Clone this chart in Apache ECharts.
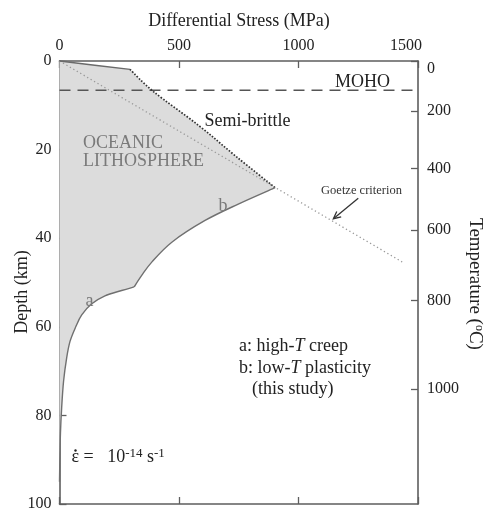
<!DOCTYPE html>
<html>
<head>
<meta charset="utf-8">
<script src="https://cdn.jsdelivr.net/npm/echarts@6/dist/echarts.min.js"></script>
<style>
  html, body { margin: 0; padding: 0; background: #fff; }
  #chart { width: 485px; height: 512px; }
</style>
</head>
<body>
<div id="chart"></div>
<script>
// Strength envelope of oceanic lithosphere: stress (MPa) vs depth (km)
const stressRange = [0, 1500];
const depthRange = [0, 100];

// Frictional segment near the surface (solid)
const upperSolid = [[0, 0], [295, 1.9]];
// Semi-brittle segment (dotted)
const semiBrittle = [[295, 1.9], [393, 6.9], [581, 14.5], [740, 21.6], [902, 28.6]];
// b: low-T plasticity
const curveB = [[902, 28.6], [748, 32.3], [609, 36.0], [470, 40.9], [386, 45.4], [344, 48.4], [312, 51.0]];
// a: high-T creep
const curveA = [[312, 51.0], [260, 51.8], [190, 53.0], [135, 54.8], [93, 57.3], [68, 60.0],
                [44, 63.3], [30, 67.0], [17, 72.3], [9, 78.3], [4, 84.0], [1.5, 90.0], [0, 95.0]];
// Goetze criterion line
const goetzeLine = [[0, 0], [1435, 45.4]];
// Arrow pointing to the Goetze line
const goetzeArrow = [[1250, 31.0], [1146, 35.6]];
// Moho depth (km)
const mohoDepth = 6.6;

// Temperature scale on the right: labels and the depths they sit at
const tempLabels = [0, 200, 400, 600, 800, 1000];
const tempDepths = [0, 11.3, 24.3, 38.2, 54.1, 74.0];

const FONT = "'Liberation Serif', 'Times New Roman', serif";
const AXIS_COLOR = '#5e5e5e';
const TEXT_COLOR = '#222';

const chart = echarts.init(document.getElementById('chart'), null, { renderer: 'canvas' });

// Catmull-Rom spline through pixel points, as cubic bezier path commands
function splineSegments(px) {
  let d = '';
  for (let i = 0; i < px.length - 1; i++) {
    const p0 = px[i - 1] || px[i], p1 = px[i], p2 = px[i + 1], p3 = px[i + 2] || px[i + 1];
    const c1 = [p1[0] + (p2[0] - p0[0]) / 6, p1[1] + (p2[1] - p0[1]) / 6];
    const c2 = [p2[0] - (p3[0] - p1[0]) / 6, p2[1] - (p3[1] - p1[1]) / 6];
    d += ' C' + c1[0] + ',' + c1[1] + ' ' + c2[0] + ',' + c2[1] + ' ' + p2[0] + ',' + p2[1];
  }
  return d;
}

function curvePath(api, pieces, close) {
  let d = '';
  pieces.forEach(function (pts, k) {
    const px = pts.map(p => api.coord(p));
    if (k === 0) d += 'M' + px[0][0] + ',' + px[0][1];
    d += splineSegments(px);
  });
  return close ? d + ' Z' : d;
}

function curveSeries(pieces, style, z) {
  return {
    type: 'custom', xAxisIndex: 0, yAxisIndex: 0, silent: true, z: z,
    data: [[0, 0]],
    renderItem: function (params, api) {
      return { type: 'path', shape: { pathData: curvePath(api, pieces, false) },
        style: Object.assign({ fill: null }, style) };
    }
  };
}

function axisCommon(extra) {
  return Object.assign({
    type: 'value',
    splitLine: { show: false },
    axisLine: { show: true, onZero: false, lineStyle: { color: AXIS_COLOR, width: 1.6 } },
    axisTick: { show: true, inside: true, length: 7, lineStyle: { color: AXIS_COLOR, width: 1.3 } },
    axisLabel: { color: TEXT_COLOR, fontFamily: FONT, fontSize: 16, margin: 8 }
  }, extra);
}

const option = {
  animation: false,
  backgroundColor: '#fff',
  grid: { left: 59.5, right: 67, top: 61, bottom: 5, containLabel: false },
  xAxis: [
    axisCommon({ position: 'top', min: stressRange[0], max: stressRange[1], interval: 500,
      axisLabel: { color: TEXT_COLOR, fontFamily: FONT, fontSize: 16, margin: 7,
        formatter: function (v) { return v === stressRange[1] ? '{last|' + v + '}' : String(v); },
        rich: { last: { fontFamily: FONT, fontSize: 16, color: TEXT_COLOR, padding: [0, 24, 0, 0] } } } }),
    axisCommon({ position: 'bottom', min: stressRange[0], max: stressRange[1], interval: 500,
      axisLabel: { show: false } })
  ],
  yAxis: [
    axisCommon({ position: 'left', inverse: true, min: depthRange[0], max: depthRange[1], interval: 20 }),
    axisCommon({ position: 'right', inverse: true, min: depthRange[0], max: depthRange[1],
      axisTick: { show: true, inside: true, length: 7, customValues: tempDepths,
        lineStyle: { color: AXIS_COLOR, width: 1.3 } },
      axisLabel: { color: TEXT_COLOR, fontFamily: FONT, fontSize: 16, margin: 9,
        customValues: tempDepths,
        formatter: function (v) {
          const i = tempDepths.indexOf(v);
          if (i < 0) return '';
          return i === 0 ? '{first|' + tempLabels[i] + '}' : String(tempLabels[i]);
        },
        rich: { first: { fontFamily: FONT, fontSize: 16, color: TEXT_COLOR, padding: [15, 0, 0, 0] } } } })
  ],
  series: [
    {
      // shaded strength envelope
      type: 'custom', xAxisIndex: 0, yAxisIndex: 0, silent: true, z: 1,
      data: [[0, 0]],
      renderItem: function (params, api) {
        return {
          type: 'path',
          shape: { pathData: curvePath(api, [upperSolid, semiBrittle, curveB, curveA], true) },
          style: { fill: '#dcdcdc', stroke: null }
        };
      }
    },
    {
      type: 'line', xAxisIndex: 0, yAxisIndex: 0, data: goetzeLine, showSymbol: false, z: 2,
      lineStyle: { color: '#9a9a9a', width: 1.3, type: [1.3, 2.7] }
    },
    {
      type: 'line', xAxisIndex: 0, yAxisIndex: 0, showSymbol: false, z: 3,
      data: [[stressRange[0], mohoDepth], [stressRange[1], mohoDepth]],
      lineStyle: { color: '#555', width: 1.4, type: [11, 7] }
    },
    curveSeries([upperSolid], { stroke: '#6a6a6a', lineWidth: 1.4 }, 4),
    curveSeries([semiBrittle], { stroke: '#333', lineWidth: 1.7, lineDash: [1.6, 1.6] }, 4),
    curveSeries([curveB], { stroke: '#707070', lineWidth: 1.4 }, 4),
    curveSeries([curveA], { stroke: '#707070', lineWidth: 1.4 }, 4),
    {
      // open arrow pointing at the Goetze line
      type: 'custom', xAxisIndex: 0, yAxisIndex: 0, silent: true, z: 5,
      data: [[0, 0]],
      renderItem: function (params, api) {
        const a = api.coord(goetzeArrow[0]);
        const b = api.coord(goetzeArrow[1]);
        const ang = Math.atan2(b[1] - a[1], b[0] - a[0]);
        const L = 8, w = 0.45;
        const h1 = [b[0] - L * Math.cos(ang - w), b[1] - L * Math.sin(ang - w)];
        const h2 = [b[0] - L * Math.cos(ang + w), b[1] - L * Math.sin(ang + w)];
        const st = { stroke: '#333', lineWidth: 1.3, fill: null };
        return {
          type: 'group',
          children: [
            { type: 'line', shape: { x1: a[0], y1: a[1], x2: b[0], y2: b[1] }, style: st },
            { type: 'polyline', shape: { points: [h1, b, h2] }, style: st }
          ]
        };
      }
    }
  ],
  graphic: [
    { type: 'text', x: 239, y: 21, style: { text: 'Differential Stress (MPa)', font: '18px ' + FONT,
      fill: TEXT_COLOR, textAlign: 'center', textVerticalAlign: 'middle' } },
    { type: 'text', x: 22, y: 292, rotation: Math.PI / 2, style: { text: 'Depth (km)', font: '18px ' + FONT,
      fill: TEXT_COLOR, textAlign: 'center', textVerticalAlign: 'middle' } },
    { type: 'text', x: 475, y: 284, rotation: -Math.PI / 2, style: {
      text: 'Temperature ({sup|o}C)', font: '19px ' + FONT,
      fill: TEXT_COLOR, textAlign: 'center', textVerticalAlign: 'middle',
      rich: { sup: { font: '12px ' + FONT, fill: TEXT_COLOR, verticalAlign: 'top', padding: [0, 0, 8, 0] } } } },
    { type: 'text', x: 362.5, y: 82, z: 10, style: { text: 'MOHO', font: '18px ' + FONT,
      fill: TEXT_COLOR, textAlign: 'center', textVerticalAlign: 'middle' } },
    { type: 'text', x: 247.5, y: 121, z: 10, style: { text: 'Semi-brittle', font: '18px ' + FONT,
      fill: TEXT_COLOR, textAlign: 'center', textVerticalAlign: 'middle' } },
    { type: 'text', x: 83, y: 143.7, z: 10, style: { text: 'OCEANIC', font: '18px ' + FONT,
      fill: '#7a7a7a', textAlign: 'left', textVerticalAlign: 'middle' } },
    { type: 'text', x: 83, y: 160.8, z: 10, style: { text: 'LITHOSPHERE', font: '18px ' + FONT,
      fill: '#7a7a7a', textAlign: 'left', textVerticalAlign: 'middle' } },
    { type: 'text', x: 361.5, y: 191, z: 10, style: { text: 'Goetze criterion', font: '12.5px ' + FONT,
      fill: '#333', textAlign: 'center', textVerticalAlign: 'middle' } },
    { type: 'text', x: 89.5, y: 301, z: 10, style: { text: 'a', font: '18px ' + FONT,
      fill: '#7a7a7a', textAlign: 'center', textVerticalAlign: 'middle' } },
    { type: 'text', x: 223, y: 206, z: 10, style: { text: 'b', font: '18px ' + FONT,
      fill: '#7a7a7a', textAlign: 'center', textVerticalAlign: 'middle' } },
    { type: 'text', x: 239, y: 346.5, z: 10, style: {
      text: 'a: high-{i|T} creep', font: '18px ' + FONT, fill: TEXT_COLOR,
      textAlign: 'left', textVerticalAlign: 'middle',
      rich: { i: { font: 'italic 18px ' + FONT, fill: TEXT_COLOR } } } },
    { type: 'text', x: 239, y: 368, z: 10, style: {
      text: 'b: low-{i|T} plasticity', font: '18px ' + FONT, fill: TEXT_COLOR,
      textAlign: 'left', textVerticalAlign: 'middle',
      rich: { i: { font: 'italic 18px ' + FONT, fill: TEXT_COLOR } } } },
    { type: 'text', x: 252, y: 389.5, z: 10, style: { text: '(this study)', font: '18px ' + FONT,
      fill: TEXT_COLOR, textAlign: 'left', textVerticalAlign: 'middle' } },
    // strain rate: epsilon with a dot above
    { type: 'text', x: 71.5, y: 457.5, z: 10, style: {
      text: 'ε =   10{sup|-14} s{sup|-1}', font: '18px ' + FONT, fill: TEXT_COLOR,
      textAlign: 'left', textVerticalAlign: 'middle',
      rich: { sup: { font: '13px ' + FONT, fill: TEXT_COLOR, verticalAlign: 'top', padding: [0, 0, 8, 0] } } } },
    { type: 'circle', z: 10, shape: { cx: 75.5, cy: 450.5, r: 1.2 }, style: { fill: TEXT_COLOR } }
  ]
};

chart.setOption(option);
</script>
</body>
</html>
